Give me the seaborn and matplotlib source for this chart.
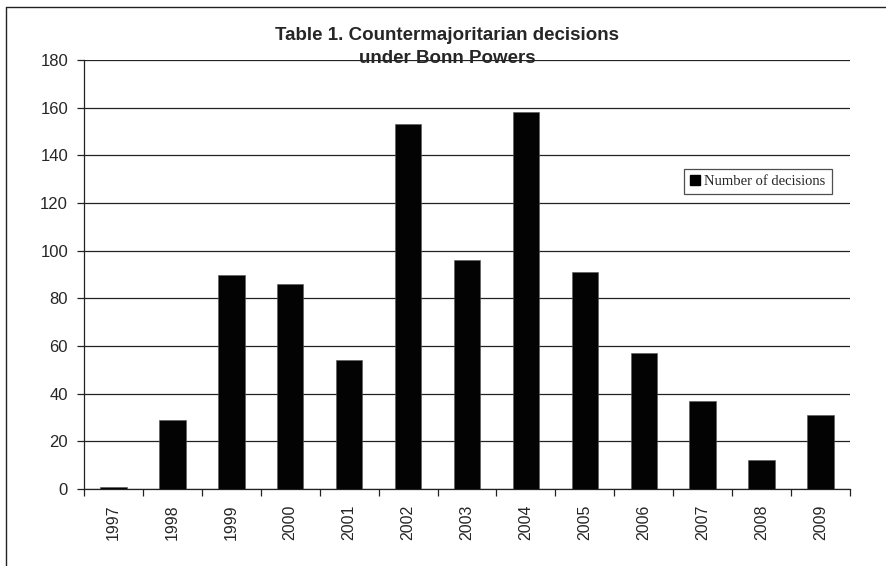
import numpy as np
import pandas as pd
import seaborn as sns
from matplotlib import pyplot as plt
from matplotlib.patches import Patch
from matplotlib.lines import Line2D
import matplotlib.ticker as ticker

years = ['1997', '1998', '1999', '2000', '2001', '2002', '2003',
         '2004', '2005', '2006', '2007', '2008', '2009']
decisions = [1, 29, 90, 86, 54, 153, 96, 158, 91, 57, 37, 12, 31]
y_ticks = [0, 20, 40, 60, 80, 100, 120, 140, 160, 180]
title = 'Table 1. Countermajoritarian decisions\nunder Bonn Powers'
legend_label = 'Number of decisions'

sns.set_style('white')
plt.rcParams['font.family'] = ['Liberation Sans', 'DejaVu Sans']

df = pd.DataFrame({'year': years, 'n': decisions})

fig = plt.figure(figsize=(8.87, 5.66), dpi=100)
ax = fig.add_axes([84 / 887, 77 / 566, 766 / 887, 429 / 566])

sns.barplot(data=df, x='year', y='n', ax=ax, color='#030303',
            width=0.45, edgecolor='#555555', linewidth=0.4,
            saturation=1, zorder=3)

ax.set_ylim(0, 180)
ax.set_xlim(-0.5, len(years) - 0.5)
ax.set_yticks(y_ticks)
ax.yaxis.grid(True, color='#222222', linewidth=0.9, zorder=0)
ax.set_axisbelow(True)
ax.set_xlabel('')
ax.set_ylabel('')

for s in ['top', 'right']:
    ax.spines[s].set_visible(False)
for s in ['left', 'bottom']:
    ax.spines[s].set_color('#222222')
    ax.spines[s].set_linewidth(0.9)

# category boundary ticks on x
ax.xaxis.set_minor_locator(ticker.FixedLocator(np.arange(-0.5, len(years), 1.0)))
ax.tick_params(axis='x', which='major', length=0, pad=11, labelsize=11.5,
               labelrotation=90)
ax.tick_params(axis='x', which='minor', length=5, width=0.9, color='#222222',
               direction='out', bottom=True)
ax.tick_params(axis='y', which='major', length=5, width=0.9, color='#222222',
               direction='out', left=True, pad=6.5, labelsize=12)

handles = [Patch(facecolor='black', edgecolor='black', label=legend_label)]
leg = ax.legend(handles=handles, loc='upper left',
                bbox_to_anchor=((684 - 84) / 766, (489 - 169) / 429),
                borderaxespad=0, frameon=True, fancybox=False,
                handlelength=0.7, handleheight=0.7, handletextpad=0.3,
                borderpad=0.4,
                prop={'family': 'Liberation Serif', 'size': 10.5})
leg.get_frame().set_edgecolor('#222222')
leg.get_frame().set_linewidth(0.9)
leg.set_zorder(5)

fig.text(447 / 887, 1 - 47 / 566, title, ha='center', va='center',
         fontsize=13.5, fontweight='bold', linespacing=1.4)

# outer chart border (left and top edge)
fig.add_artist(Line2D([6 / 887, 6 / 887], [0, 1 - 7 / 566],
                      transform=fig.transFigure, color='#222222', lw=1))
fig.add_artist(Line2D([6 / 887, 1], [1 - 7 / 566, 1 - 7 / 566],
                      transform=fig.transFigure, color='#222222', lw=1))

fig.savefig('out.png', dpi=100)
